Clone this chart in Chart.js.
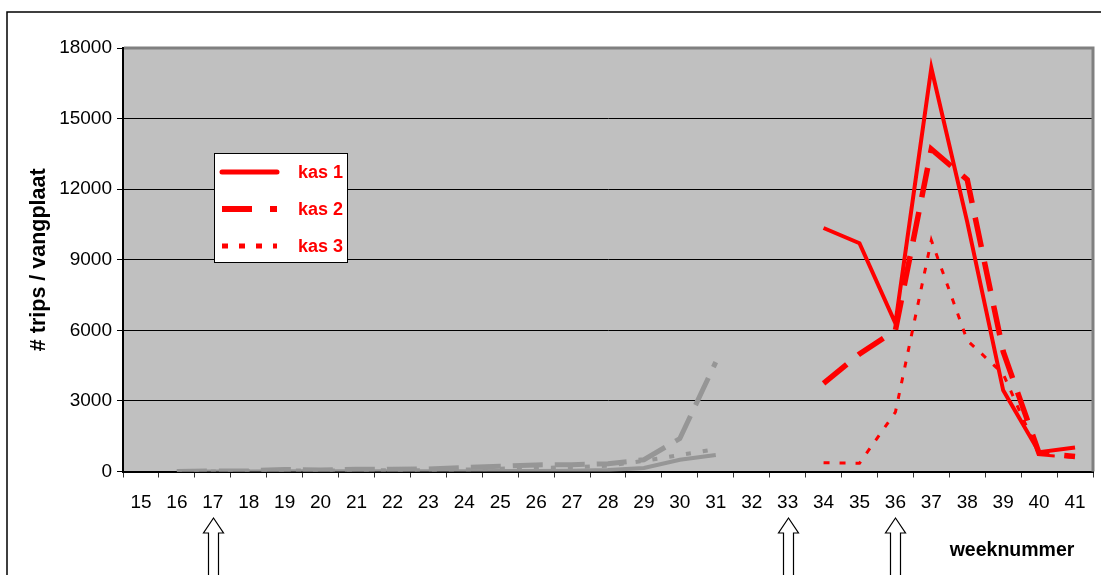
<!DOCTYPE html>
<html>
<head>
<meta charset="utf-8">
<script src="https://cdn.jsdelivr.net/npm/chart.js@4.4.1/dist/chart.umd.min.js"></script>
<style>
  html, body { margin: 0; padding: 0; background: #fff; }
  #wrap { width: 1101px; height: 575px; position: relative; }
</style>
</head>
<body>
<div id="wrap"><canvas id="tripsChart"></canvas></div>

<script>
// weeks on the x axis
const weeks = ['15', '16', '17', '18', '19', '20', '21', '22', '23', '24', '25', '26', '27', '28',
               '29', '30', '31', '32', '33', '34', '35', '36', '37', '38', '39', '40', '41'];

// first period (grey), weeks 16-31
const greyKas1 = [null, 0, 0, 0, 10, 10, 10, 10, 10, 10, 20, 20, 30, 60, 150, 500, 700,
                  null, null, null, null, null, null, null, null, null, null];
const greyKas2 = [null, 0, 20, 30, 90, 60, 100, 100, 110, 170, 220, 280, 290, 330, 500, 1400, 4650,
                  null, null, null, null, null, null, null, null, null, null];
const greyKas3 = [null, 0, 0, 10, 40, 40, 50, 50, 60, 80, 120, 150, 180, 250, 450, 700, 950,
                  null, null, null, null, null, null, null, null, null, null];

// second period (red), weeks 34-41
const redKas1 = [null, null, null, null, null, null, null, null, null, null, null, null, null, null,
                 null, null, null, null, null, 10350, 9700, 6300, 17150, 10600, 3450, 820, 1020];
const redKas2 = [null, null, null, null, null, null, null, null, null, null, null, null, null, null,
                 null, null, null, null, null, 3750, 5000, 6000, 13700, 12400, 5100, 770, 640];
const redKas3 = [null, null, null, null, null, null, null, null, null, null, null, null, null, null,
                 null, null, null, null, null, 375, 350, 2520, 9830, 5570, 4150, 700, 610];

const yTicks = [0, 3000, 6000, 9000, 12000, 15000, 18000];
const legendNames = ['kas 1', 'kas 2', 'kas 3'];
const arrowWeeks = ['17', '33', '36'];

const RED = '#ff0000';
const GREY = '#969696';
const SANS = "Arial, 'Liberation Sans', sans-serif";

// grey plot background + black outer frame
const backdrop = {
  id: 'backdrop',
  beforeDraw(chart) {
    const {ctx, chartArea: a} = chart;
    ctx.save();
    ctx.fillStyle = '#c0c0c0';
    ctx.fillRect(a.left, a.top, a.right - a.left, a.bottom - a.top);
    ctx.strokeStyle = '#000';
    ctx.lineWidth = 1.5;
    ctx.strokeRect(7, 12, 1200, 700);
    ctx.restore();
  }
};

// plot border, legend box, arrows, x title
const extras = {
  id: 'extras',
  afterDraw(chart) {
    const {ctx, chartArea: a} = chart;
    const x = chart.scales.x;
    ctx.save();

    // grey top/right border of plot area
    ctx.strokeStyle = '#808080';
    ctx.lineWidth = 3;
    ctx.beginPath();
    ctx.moveTo(a.left + 1, a.top);
    ctx.lineTo(a.right, a.top);
    ctx.lineTo(a.right, a.bottom);
    ctx.stroke();

    // legend (red series only)
    const bx = 214.5, by = 153.5, bw = 133, bh = 109;
    ctx.fillStyle = '#fff';
    ctx.fillRect(bx, by, bw, bh);
    ctx.strokeStyle = '#000';
    ctx.lineWidth = 1;
    ctx.strokeRect(bx, by, bw, bh);
    const rowY = [172, 209, 246];
    const sample = [
      {w: 5, dash: [], cap: 'round'},
      {w: 6, dash: [30, 18], cap: 'butt'},
      {w: 5, dash: [6, 11], cap: 'butt'}
    ];
    legendNames.forEach((name, i) => {
      ctx.strokeStyle = RED;
      ctx.lineWidth = sample[i].w;
      ctx.lineCap = sample[i].cap;
      ctx.setLineDash(sample[i].dash);
      ctx.beginPath();
      ctx.moveTo(222, rowY[i]);
      ctx.lineTo(277, rowY[i]);
      ctx.stroke();
      ctx.setLineDash([]);
      ctx.fillStyle = RED;
      ctx.font = 'bold 18px ' + SANS;
      ctx.textAlign = 'left';
      ctx.textBaseline = 'middle';
      ctx.fillText(name, 298, rowY[i] + 1);
    });
    ctx.lineCap = 'butt';

    // treatment arrows below the axis
    ctx.fillStyle = '#fff';
    ctx.strokeStyle = '#000';
    ctx.lineWidth = 1.2;
    arrowWeeks.forEach(w => {
      const cx = Math.round(x.getPixelForValue(weeks.indexOf(w))) + 0.5;
      const tip = 518, base = 533;
      ctx.beginPath();
      ctx.moveTo(cx, tip);
      ctx.lineTo(cx + 10, base);
      ctx.lineTo(cx + 5, base);
      ctx.lineTo(cx + 5, 590);
      ctx.lineTo(cx - 5, 590);
      ctx.lineTo(cx - 5, base);
      ctx.lineTo(cx - 10, base);
      ctx.closePath();
      ctx.fill();
      ctx.stroke();
    });

    // x axis title
    ctx.fillStyle = '#000';
    ctx.font = 'bold 19.5px ' + SANS;
    ctx.textAlign = 'center';
    ctx.textBaseline = 'middle';
    ctx.fillText('weeknummer', 1012, 551);
    ctx.restore();
  }
};

function lineSet(label, data, color, width, dash) {
  return {
    label: label,
    data: data,
    borderColor: color,
    backgroundColor: color,
    borderWidth: width,
    borderDash: dash,
    borderJoinStyle: 'miter',
    pointRadius: 0,
    tension: 0,
    fill: false,
    spanGaps: false
  };
}

const ctx = document.getElementById('tripsChart').getContext('2d');
const tripsChart = new Chart(ctx, {
  type: 'line',
  data: {
    labels: weeks,
    datasets: [
      lineSet('kas 1', redKas1, RED, 4, []),
      lineSet('kas 2', redKas2, RED, 5.5, [30, 15]),
      lineSet('kas 3', redKas3, RED, 3, [6, 10]),
      lineSet('kas 1 (periode 1)', greyKas1, GREY, 4, []),
      lineSet('kas 2 (periode 1)', greyKas2, GREY, 5, [30, 12]),
      lineSet('kas 3 (periode 1)', greyKas3, GREY, 4, [5, 12])
    ]
  },
  options: {
    responsive: true,
    maintainAspectRatio: false,
    animation: false,
    events: [],
    layout: { padding: { left: 0, right: 8, top: 48, bottom: 0 } },
    scales: {
      x: {
        offset: true,
        afterFit: s => { s.height = 103.5; },
        grid: {
          offset: true,
          drawOnChartArea: false,
          drawTicks: true,
          tickLength: 6,
          color: '#333'
        },
        border: { color: '#000', width: 2 },
        ticks: {
          color: '#000',
          padding: 14,
          maxRotation: 0,
          autoSkip: false,
          font: { family: SANS, size: 19 }
        }
      },
      y: {
        min: 0,
        max: 18000,
        afterFit: s => { s.width = 123; },
        afterBuildTicks: s => { s.ticks = yTicks.map(v => ({ value: v })); },
        grid: { color: '#000', lineWidth: 1, tickLength: 6 },
        border: { color: '#000', width: 2 },
        ticks: {
          color: '#000',
          padding: 5,
          font: { family: SANS, size: 19 },
          callback: v => String(v)
        },
        title: {
          display: true,
          text: '# trips / vangplaat',
          color: '#000',
          font: { family: SANS, size: 21.5, weight: 'bold' },
          padding: { top: 26, bottom: 0 }
        }
      }
    },
    plugins: {
      legend: { display: false },
      title: { display: false },
      tooltip: { enabled: false }
    }
  },
  plugins: [backdrop, extras]
});
</script>
</body>
</html>
